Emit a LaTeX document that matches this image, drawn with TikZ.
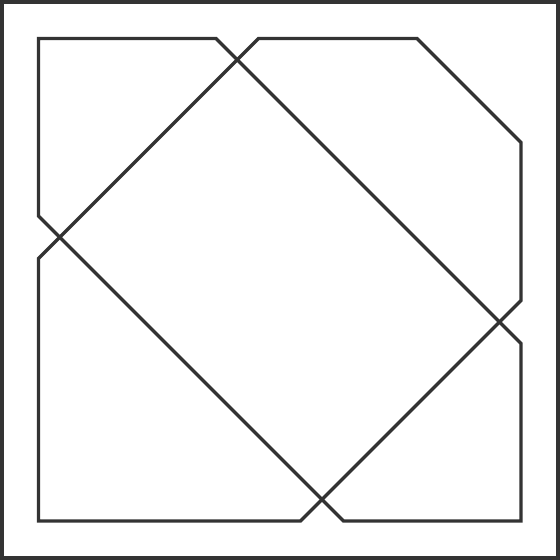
\documentclass[tikz,border=0pt]{standalone}
\begin{document}
\begin{tikzpicture}[x=1pt,y=-1pt,
  edge/.style={draw=black!80, line width=3.3pt, line join=miter}]
\useasboundingbox (0,0) rectangle (560,560);
\fill[white] (0,0) rectangle (560,560);
% outer frame
\draw[edge] (2,2) rectangle (558,558);
% shape A
\draw[edge] (38.5,38.5) -- (216,38.5) -- (521,343.5) -- (521,521) -- (343.5,521) -- (38.5,216) -- cycle;
% shape B
\draw[edge] (38.5,521) -- (300.5,521) -- (521,300.5) -- (521,142.5) -- (417,38.5) -- (258.5,38.5) -- (38.5,258.5) -- cycle;
\end{tikzpicture}
\end{document}
